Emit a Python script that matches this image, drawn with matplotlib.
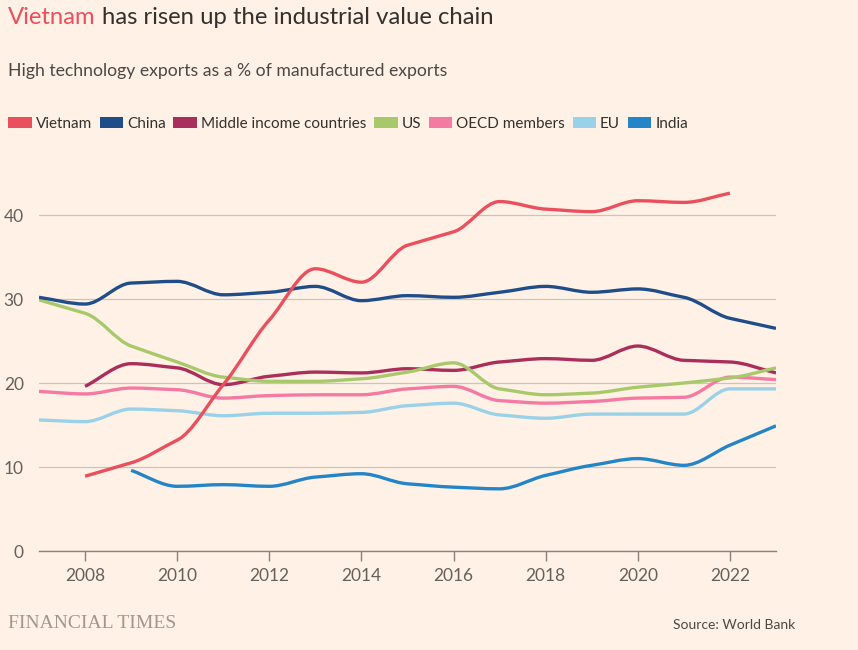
import numpy as np
import matplotlib
matplotlib.use("Agg")
import matplotlib.pyplot as plt
from matplotlib.path import Path
from matplotlib.patches import PathPatch, Patch

# Данные (оценены по картинке)
years = list(range(2007, 2024))

vietnam = [None, 8.9, 10.5, 13.2, 19.8, 27.5, 33.6, 32.0, 36.4, 38.0, 41.6, 40.7, 40.4, 41.7, 41.5, 42.6, None]
china = [30.2, 29.4, 31.9, 32.1, 30.5, 30.8, 31.5, 29.8, 30.4, 30.2, 30.8, 31.5, 30.8, 31.2, 30.2, 27.7, 26.5]
middle = [None, 19.6, 22.3, 21.8, 19.8, 20.8, 21.3, 21.2, 21.7, 21.5, 22.5, 22.9, 22.7, 24.4, 22.7, 22.5, 21.2]
us = [29.9, 28.3, 24.4, 22.5, 20.7, 20.2, 20.2, 20.5, 21.3, 22.4, 19.3, 18.6, 18.8, 19.5, 20.0, 20.6, 21.8]
oecd = [19.0, 18.7, 19.4, 19.2, 18.2, 18.5, 18.6, 18.6, 19.3, 19.6, 17.9, 17.6, 17.8, 18.2, 18.3, 20.7, 20.4]
eu = [15.6, 15.4, 16.9, 16.7, 16.1, 16.4, 16.4, 16.5, 17.3, 17.6, 16.2, 15.8, 16.3, 16.3, 16.3, 19.3, 19.3]
india = [None, None, 9.6, 7.7, 7.9, 7.7, 8.8, 9.2, 8.0, 7.6, 7.4, 9.0, 10.2, 11.0, 10.2, 12.6, 14.9]

names = ["Vietnam", "China", "Middle income countries", "US", "OECD members", "EU", "India"]
series = [vietnam, china, middle, us, oecd, eu, india]
colors = ["#ea4f5d", "#1f4d8a", "#aa2e5b", "#a7c96b", "#f57aa3", "#99d2e8", "#2385c7"]
zorders = [9, 7, 5, 6, 4, 3, 8]

xticks = [2008, 2010, 2012, 2014, 2016, 2018, 2020, 2022]
yticks = [0, 10, 20, 30, 40]

BG = "#fff1e5"
TXT = "#33302e"


def smooth_path(xs, ys):
    # монотонная кубическая кривая (как d3.curveMonotoneX) через точки
    xs = np.asarray(xs, float)
    ys = np.asarray(ys, float)
    h = np.diff(xs)
    d = np.diff(ys) / h
    m = np.zeros_like(ys)
    m[0], m[-1] = d[0], d[-1]
    for i in range(1, len(ys) - 1):
        if d[i - 1] * d[i] <= 0:
            m[i] = 0
        else:
            m[i] = np.sign(d[i]) * min(abs(d[i - 1]), abs(d[i]), 0.5 * abs(d[i - 1] + d[i]))
    verts = [(xs[0], ys[0])]
    codes = [Path.MOVETO]
    for i in range(len(xs) - 1):
        verts += [(xs[i] + h[i] / 3, ys[i] + m[i] * h[i] / 3),
                  (xs[i + 1] - h[i] / 3, ys[i + 1] - m[i + 1] * h[i] / 3),
                  (xs[i + 1], ys[i + 1])]
        codes += [Path.CURVE4] * 3
    return Path(verts, codes)


fig = plt.figure(figsize=(8.58, 6.5), dpi=100, facecolor=BG)
W, H = 858, 650
ax = fig.add_axes([39 / W, 1 - 551 / H, (776 - 39) / W, (551 - 185) / H])
ax.set_facecolor(BG)

for name, vals, col, z in zip(names, series, colors, zorders):
    pts = [(x, v) for x, v in zip(years, vals) if v is not None]
    xs, ys = zip(*pts)
    p = smooth_path(xs, ys)
    ax.add_patch(PathPatch(p, facecolor="none", edgecolor=col, lw=2.4,
                           capstyle="butt", joinstyle="round", zorder=z))

ax.set_xlim(2007, 2023)
ax.set_ylim(0, (551 - 185) / 8.4)
ax.set_yticks(yticks)
ax.set_xticks(xticks)
ax.set_xticklabels([str(t) for t in xticks])

for s in ["top", "right", "left"]:
    ax.spines[s].set_visible(False)
ax.spines["bottom"].set_color("#8a8079")
ax.spines["bottom"].set_linewidth(1)
ax.yaxis.grid(True, color="#cfc3b8", lw=0.9)
ax.set_axisbelow(True)
ax.tick_params(axis="y", length=0, pad=11, labelsize=12.5, labelcolor="#66605c")
ax.tick_params(axis="x", length=7, width=1, color="#8a8079", pad=5, labelsize=12.5, labelcolor="#66605c")
for lab in ax.get_xticklabels() + ax.get_yticklabels():
    lab.set_family("Lato")

# Заголовок: "Vietnam" красным, остальное тёмным
t1 = fig.text(8 / W, 1 - 18 / H, "Vietnam", color=colors[0], fontsize=17.2,
              family="Lato", va="center", ha="left")
fig.canvas.draw()
bb = t1.get_window_extent()
fig.text(bb.x1 / W + 6 / W, 1 - 18 / H, "has risen up the industrial value chain", color=TXT,
         fontsize=17.2, family="Lato", va="center", ha="left")

fig.text(8 / W, 1 - 71 / H, "High technology exports as a % of manufactured exports",
         color="#4d4845", fontsize=12.7, family="Lato", va="center", ha="left")

# Легенда
handles = [Patch(facecolor=c, edgecolor="none") for c in colors]
leg = fig.legend(handles, names, loc="center left", bbox_to_anchor=(2 / W, 1 - 124 / H),
                 ncol=7, frameon=False, handlelength=1.55, handleheight=0.75,
                 handletextpad=0.25, columnspacing=0.5, borderaxespad=0,
                 prop={"family": "Lato", "size": 11})
for t in leg.get_texts():
    t.set_color(TXT)

fig.text(8 / W, 1 - 623 / H, "FINANCIAL TIMES", color="#a09890", fontsize=14,
         family="Liberation Serif", va="center", ha="left")
fig.text(795 / W, 1 - 625 / H, "Source: World Bank", color="#4d4845", fontsize=10,
         family="Lato", va="center", ha="right")

fig.savefig("out.png", dpi=100, facecolor=BG)
